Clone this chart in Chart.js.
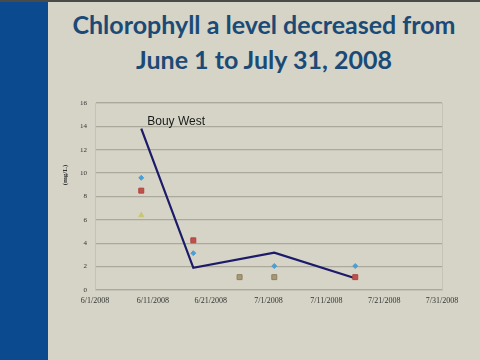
<!DOCTYPE html>
<html><head><meta charset="utf-8">
<script src="https://cdn.jsdelivr.net/npm/chart.js@4.4.1/dist/chart.umd.min.js"></script>
<style>
html,body{margin:0;padding:0;}
body{width:480px;height:360px;background:#d5d4c6;position:relative;overflow:hidden;}
#bar{position:absolute;left:0;top:0;width:48px;height:360px;background:#0b4a8e;}
#topline{position:absolute;left:0;top:0;width:480px;height:2px;background:#4a4a48;}
#title{position:absolute;left:48px;top:7px;width:432px;text-align:center;font-family:Lato,"Open Sans",sans-serif;font-weight:bold;font-size:25px;line-height:35px;color:#1b4a76;}
#c{position:absolute;left:0;top:0;}
</style></head><body>
<div id="bar"></div><div id="topline"></div>
<div id="title">Chlorophyll a level decreased from<br>June 1 to July 31, 2008</div>
<canvas id="c" width="480" height="360"></canvas>
<script>
// ---- data ----
const startDate = "6/1/2008";
const xTickLabels = ["6/1/2008","6/11/2008","6/21/2008","7/1/2008","7/11/2008","7/21/2008","7/31/2008"];
const yTickMax = 16;
const yTickStep = 2;
const bouyWestDates = ["6/9/2008","6/18/2008","7/2/2008","7/16/2008"];
const bouyWestValues = [13.8, 1.9, 3.2, 1.0];
const blueDates = ["6/9/2008","6/18/2008","7/2/2008","7/16/2008"];
const blueValues = [9.6, 3.15, 2.05, 2.05];
const redDates = ["6/9/2008","6/18/2008","7/16/2008"];
const redValues = [8.5, 4.25, 1.1];
const yellowDates = ["6/9/2008"];
const yellowValues = [6.4];
const tanDates = ["6/26/2008","7/2/2008"];
const tanValues = [1.1, 1.1];
const seriesLabel = "Bouy West";
const yAxisTitle = "(mg/L)";

function dayOf(s){const p=s.split("/").map(Number);return Date.UTC(p[2],p[0]-1,p[1])/864e5;}
const d0 = dayOf(startDate);
function pts(ds,vs){return ds.map((d,i)=>({x:dayOf(d)-d0,y:vs[i]}));}

const extras = {
  id:'extras',
  beforeDatasetsDraw(chart){
    const a=chart.chartArea,ctx=chart.ctx;
    ctx.save();ctx.strokeStyle='#c4c3b6';ctx.lineWidth=1;
    ctx.strokeRect(a.left+0.5,a.top+0.5,a.right-a.left,a.bottom-a.top);
    ctx.restore();
  },
  afterDraw(chart){
    const ctx=chart.ctx, meta=chart.getDatasetMeta(chart.data.datasets.length-1);
    const p=meta.data[0];
    ctx.save();
    ctx.fillStyle='#1a1a1a';ctx.font='12px "Liberation Sans", Arial, sans-serif';
    ctx.textBaseline='alphabetic';ctx.textAlign='left';
    ctx.fillText(seriesLabel,p.x+6,p.y-4);
    ctx.translate(65,175);ctx.rotate(-Math.PI/2);
    ctx.font='bold 7px "Liberation Serif", serif';ctx.fillStyle='#333';ctx.textAlign='center';ctx.textBaseline='middle';
    ctx.fillText(yAxisTitle,0,0);
    ctx.restore();
  }
};

new Chart(document.getElementById('c'),{
  type:'scatter',
  data:{datasets:[
    {data:pts(blueDates,blueValues),pointStyle:'rectRot',pointRadius:2.5,backgroundColor:'#4b9fd6',borderColor:'#4b9fd6',showLine:false},
    {data:pts(redDates,redValues),pointStyle:'rect',pointRadius:3.5,backgroundColor:'#c0504d',borderColor:'#b04541',showLine:false},
    {data:pts(yellowDates,yellowValues),pointStyle:'triangle',pointRadius:3,backgroundColor:'#c9c672',borderColor:'#c9c672',showLine:false},
    {data:pts(tanDates,tanValues),pointStyle:'rect',pointRadius:3.5,backgroundColor:'#a89878',borderColor:'#8e7f62',showLine:false},
    {data:pts(bouyWestDates,bouyWestValues),showLine:true,pointRadius:0,borderColor:'#1c1a6a',borderWidth:2.2,tension:0}
  ]},
  options:{
    responsive:false,animation:false,
    layout:{padding:{left:55,right:38,top:103,bottom:0}},
    plugins:{legend:{display:false},tooltip:{enabled:false}},
    scales:{
      x:{type:'linear',min:0,max:60,
        afterFit(s){s.height=70;},
        afterBuildTicks(s){s.ticks=xTickLabels.map((_,i)=>({value:i*10}));},
        ticks:{callback:(v,i)=>xTickLabels[i],maxRotation:0,autoSkip:false,font:{family:'"Liberation Serif", serif',size:8},color:'#333',padding:6},
        grid:{display:false,drawTicks:false},border:{color:'#a9a899',width:1}},
      y:{min:0,max:yTickMax,
        afterFit(s){s.width=40;},
        ticks:{stepSize:yTickStep,font:{family:'"Liberation Serif", serif',size:7},color:'#333',padding:8},
        grid:{color:'#aaa99b',lineWidth:1.3,drawTicks:false},border:{color:'#e4e3d8',width:1}}
    }
  },
  plugins:[extras]
});
</script>
</body></html>
